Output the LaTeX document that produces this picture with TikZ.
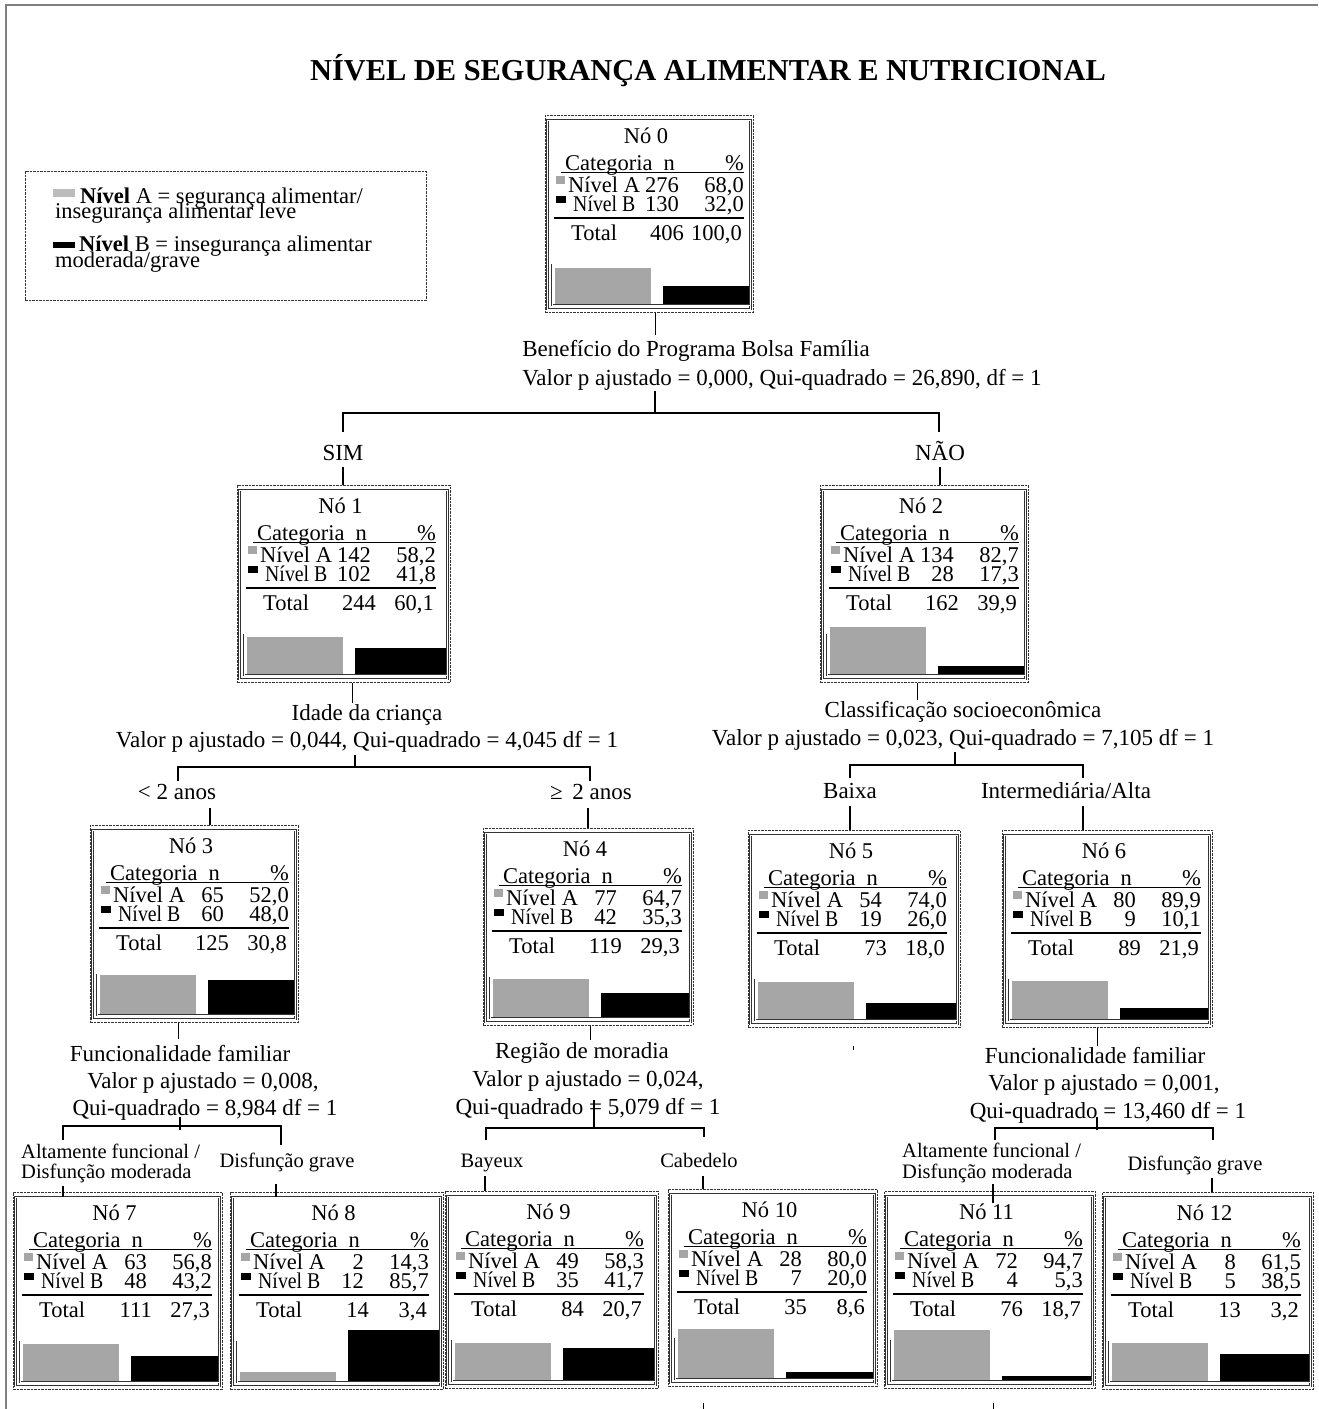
\documentclass[tikz,border=0pt]{standalone}
\usepackage{fontspec}
\setmainfont{Liberation Serif}
\definecolor{barg}{HTML}{A6A6A6}
\definecolor{frameg}{HTML}{808080}
\newcommand\fs{\fontsize{22.5}{26}\selectfont}
\newcommand\fse{\fontsize{23}{26}\selectfont}
\newcommand\fsb{\fontsize{20.5}{24}\selectfont}
\tikzset{
 lab/.style={anchor=base, inner sep=0pt, font=\fs},
 labe/.style={anchor=base, inner sep=0pt, font=\fse},
 labs/.style={anchor=base, inner sep=0pt, font=\fsb},
 conn/.style={line width=1.2pt, black},
 dashbox/.style={draw=black!80, line width=0.8pt, dash pattern=on 2.5pt off 1pt},
 innerfr/.style={draw=black!80, line width=0.7pt, double=white, double distance=1pt},
 rule/.style={line width=1.3pt, black},
}
% box: name, X, Y, W, number, gray top, black top
\newcommand\TNbox[7]{%
 \node[dashbox, anchor=north west, minimum width=#4pt, minimum height=197pt, inner sep=0pt] (#1) at (#2,#3) {};
 \begin{scope}[shift={(#2,#3)}]
  \draw[innerfr] (2.5,5) rectangle (#4-2.5,194);
  \fill[barg] (10,#6) rectangle (106,190);
  \fill[black] (118,#7) rectangle (#4-4,190);
  \draw[innerfr] (7,149) -- (7,190) -- (#4-3,190);
  \node[lab] (#1t) at (#4/2-3,28.5) {Nó #5};
 \end{scope}}
% table: name, X, Y, nA, pA, nB, pB, nT, pT
\newcommand\TNdata[9]{%
 \begin{scope}[shift={(#2,#3)}]
  \node[lab, anchor=base west] (#1c) at (20,55) {Categoria};
  \node[lab, anchor=base east] (#1cn) at (130,55) {n};
  \node[lab, anchor=base east] (#1cp) at (199,55) {\%};
  \draw[rule] (16,57.5) -- (199,57.5);
  \fill[barg] (11,61) rectangle (20,69);
  \node[lab, anchor=base west] (#1a) at (23,77) {Nível A};
  \node[lab, anchor=base east] (#1an) at (134,77) {#4};
  \node[lab, anchor=base east] (#1ap) at (199,77) {#5};
  \fill[black] (11,81) rectangle (21,88);
  \node[lab, anchor=base west] (#1b) at (28,96) {\scalebox{0.88}[1]{Nível B}};
  \node[lab, anchor=base east] (#1bn) at (134,96) {#6};
  \node[lab, anchor=base east] (#1bp) at (199,96) {#7};
  \draw[rule] (9,103) -- (199,103);
  \node[lab, anchor=base west] (#1tl) at (26,125.5) {Total};
  \node[lab, anchor=base east] (#1tn) at (139,125.5) {#8};
  \node[lab, anchor=base east] (#1tp) at (197,125.5) {#9};
 \end{scope}}
\begin{document}
\begin{tikzpicture}[x=1pt,y=-1pt]
\useasboundingbox (0,0) rectangle (1318,1409);
\draw[frameg, line width=2pt] (6,1409) -- (6,5) -- (1318,5);

\node[anchor=base, inner sep=0pt, font=\fontsize{30.4}{33}\selectfont\bfseries] (title) at (708,80) {NÍVEL DE SEGURANÇA ALIMENTAR E NUTRICIONAL};

% legend
\node[dashbox, anchor=north west, minimum width=401pt, minimum height=129pt, inner sep=0pt] (legend) at (25,171) {};
\fill[barg!75] (53,189) rectangle (75,197);
\node[lab, anchor=base west] (lA1) at (80,203) {\textbf{Nível} A = segurança alimentar/};
\node[lab, anchor=base west] (lA2) at (55,218) {insegurança alimentar leve};
\fill[black] (53,242) rectangle (75,248);
\node[lab, anchor=base west] (lB1) at (79,251) {\textbf{Nível} B = insegurança alimentar};
\node[lab, anchor=base west] (lB2) at (55,267) {moderada/grave};

% nodes
\TNbox{n0}{545}{115}{208}{0}{153}{171}
\TNdata{n0}{545}{115}{276}{68,0}{130}{32,0}{406}{100,0}
\TNbox{n1}{237}{485}{213}{1}{152}{163}
\TNdata{n1}{237}{485}{142}{58,2}{102}{41,8}{244}{60,1}
\TNbox{n2}{820}{485}{208}{2}{142}{181}
\TNdata{n2}{820}{485}{134}{82,7}{28}{17,3}{162}{39,9}
\TNbox{n3}{90}{825}{208}{3}{150}{155}
\TNdata{n3}{90}{825}{65}{52,0}{60}{48,0}{125}{30,8}
\TNbox{n4}{483}{828}{210}{4}{151}{165}
\TNdata{n4}{483}{828}{77}{64,7}{42}{35,3}{119}{29,3}
\TNbox{n5}{748}{830}{212}{5}{152}{173}
\TNdata{n5}{748}{830}{54}{74,0}{19}{26,0}{73}{18,0}
\TNbox{n6}{1002}{830}{210}{6}{151}{178}
\TNdata{n6}{1002}{830}{80}{89,9}{9}{10,1}{89}{21,9}
\TNbox{n7}{13}{1192}{209}{7}{152}{164}
\TNdata{n7}{13}{1192}{63}{56,8}{48}{43,2}{111}{27,3}
\TNbox{n8}{230}{1192}{213}{8}{180}{138}
\TNdata{n8}{230}{1192}{2}{14,3}{12}{85,7}{14}{3,4}
\TNbox{n9}{445}{1191}{213}{9}{152}{157}
\TNdata{n9}{445}{1191}{49}{58,3}{35}{41,7}{84}{20,7}
\TNbox{n10}{668}{1189}{209}{10}{140}{183}
\TNdata{n10}{668}{1189}{28}{80,0}{7}{20,0}{35}{8,6}
\TNbox{n11}{884}{1191}{211}{11}{139}{185}
\TNdata{n11}{884}{1191}{72}{94,7}{4}{5,3}{76}{18,7}
\TNbox{n12}{1102}{1192}{211}{12}{151}{162}
\TNdata{n12}{1102}{1192}{8}{61,5}{5}{38,5}{13}{3,2}

% split labels
\node[labe] (lb0a) at (696,356) {Benefício do Programa Bolsa Família};
\node[labe] (lb0b) at (782,385) {Valor p ajustado = 0,000, Qui-quadrado = 26,890, df = 1};
\node[labe] (sim) at (343,460) {SIM};
\node[labe] (nao) at (940,460) {NÃO};
\node[labe] (lb1a) at (367,720) {Idade da criança};
\node[labe] (lb1b) at (367,747) {Valor p ajustado = 0,044, Qui-quadrado = 4,045 df = 1};
\node[labe] (lt2) at (177,799) {< 2 anos};
\node[labe] (ge2) at (591,799) {≥\hspace{4pt} 2 anos};
\node[labe] (lb2a) at (963,717) {Classificação socioeconômica};
\node[labe] (lb2b) at (963,745) {Valor p ajustado = 0,023, Qui-quadrado = 7,105 df = 1};
\node[labe] (baixa) at (850,798) {Baixa};
\node[labe] (inter) at (1066,798) {Intermediária/Alta};
\node[labe] (lb3a) at (180,1061) {Funcionalidade familiar};
\node[labe] (lb3b) at (203,1088) {Valor p ajustado = 0,008,};
\node[labe] (lb3c) at (205,1115) {Qui-quadrado = 8,984 df = 1};
\node[labs, anchor=base west] (alt3a) at (21,1158) {Altamente funcional /};
\node[labs, anchor=base west] (alt3b) at (21,1178) {Disfunção moderada};
\node[labs] (dg3) at (287,1167) {Disfunção grave};
\node[labe] (lb4a) at (582,1058) {Região de moradia};
\node[labe] (lb4b) at (588,1086) {Valor p ajustado = 0,024,};
\node[labe] (lb4c) at (588,1114) {Qui-quadrado = 5,079 df = 1};
\node[labs] (bay) at (492,1167) {Bayeux};
\node[labs] (cab) at (699,1167) {Cabedelo};
\node[labe] (lb6a) at (1095,1063) {Funcionalidade familiar};
\node[labe] (lb6b) at (1104,1090) {Valor p ajustado = 0,001,};
\node[labe] (lb6c) at (1108,1118) {Qui-quadrado = 13,460 df = 1};
\node[labs, anchor=base west] (alt6a) at (902,1157) {Altamente funcional /};
\node[labs, anchor=base west] (alt6b) at (902,1178) {Disfunção moderada};
\node[labs] (dg6) at (1195,1170) {Disfunção grave};

% connectors
\draw[conn] ([xshift=6pt]n0.south) -- ++(0,22);
\draw[conn] (655,391) -- (655,413);
\draw[conn] (343,432) -- (343,413) -- (939,413) -- (939,432);
\draw[conn] ([yshift=-7pt]sim.base) -- (sim.base |- n1.north);
\draw[conn] ([yshift=-7pt]nao.base) -- (nao.base |- n2.north);

\draw[conn] ([xshift=8.5pt]n1.south) -- ++(0,20);
\draw[conn] (355,755) -- (355,767);
\draw[conn] (178,781) -- (178,767) -- (590,767) -- (590,781);
\draw[conn] (210,808) -- (210,825);
\draw[conn] (588,808) -- (588,828);

\draw[conn] ([xshift=-7pt]n2.south) -- ++(0,17);
\draw[conn] (955,752) -- (955,765);
\draw[conn] (850,778) -- (850,765) -- (1083,765) -- (1083,778);
\draw[conn] (850,806) -- (850,830);
\draw[conn] (1083,806) -- (1083,830);

\draw[conn] ([xshift=-16pt]n3.south) -- ++(0,16);
\draw[conn] (180,1117) -- (180,1130);
\draw[conn] (63,1140) -- (63,1126) -- (281,1126) -- (281,1145);
\draw[conn] (63,1186) -- (63,1197);
\draw[conn] (276,1184) -- (276,1197);

\draw[conn] ([xshift=2pt]n4.south) -- ++(0,14);
\draw[conn] (594,1100) -- (594,1128);
\draw[conn] (486,1140) -- (486,1128) -- (704,1128) -- (704,1137);
\draw[conn] (485,1176) -- (485,1191);
\draw[conn] (703,1176) -- (703,1189);

\draw[conn] ([xshift=-10pt]n6.south) -- ++(0,18);
\draw[conn] (1097,1117) -- (1097,1130);
\draw[conn] (995,1140) -- (995,1128) -- (1213,1128) -- (1213,1140);
\draw[conn] (993,1184) -- (993,1203);
\draw[conn] (1212,1178) -- (1212,1192);

% small stray marks
\draw[line width=0.8pt] (853,1046) -- (853,1050);
\draw[line width=0.8pt] (703,1403) -- (703,1409);
\draw[line width=0.8pt] (993,1403) -- (993,1409);
\end{tikzpicture}
\end{document}
